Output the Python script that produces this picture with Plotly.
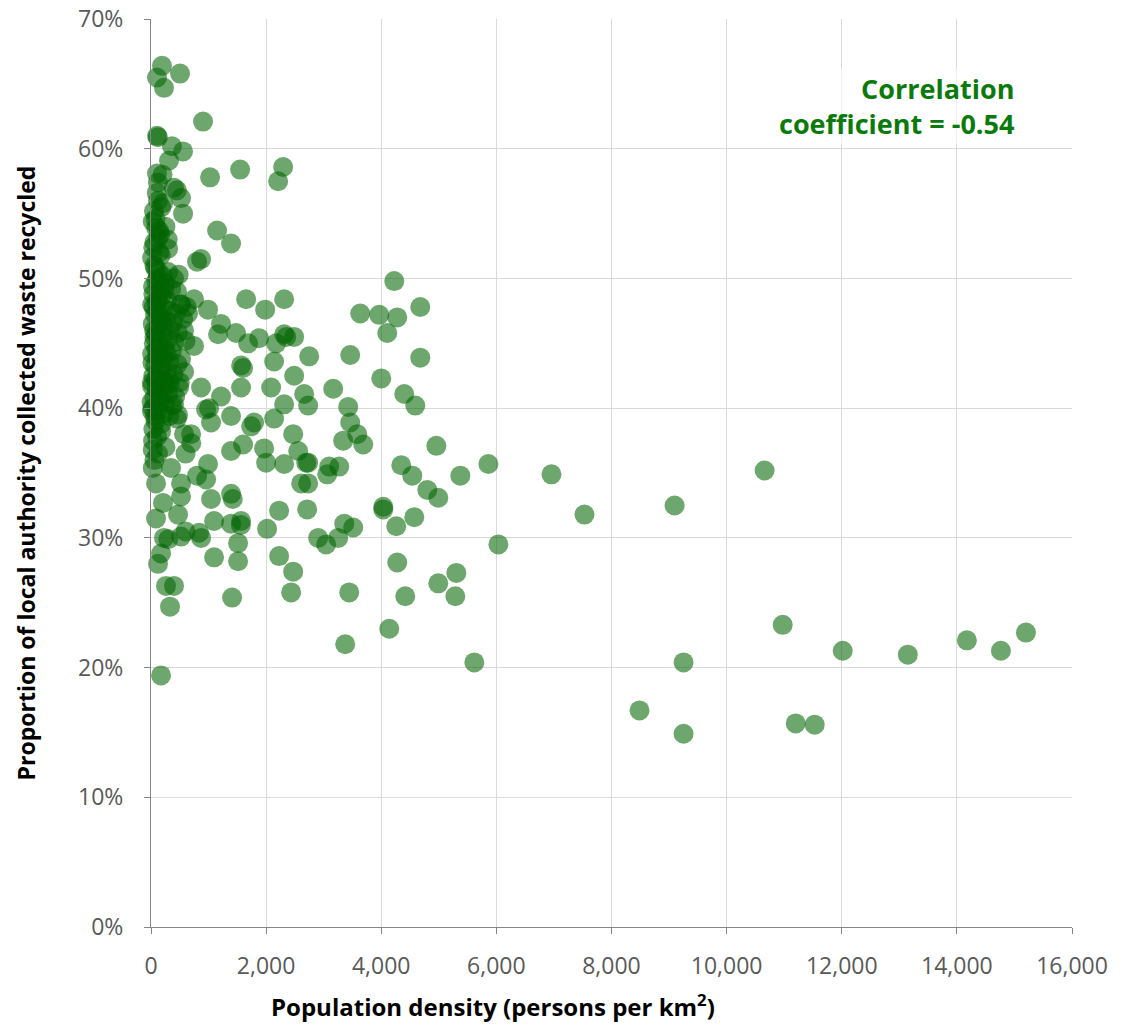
import plotly.graph_objects as go

# Population density (persons per km2) and proportion recycled (%)
density_outer = [191, 504, 104, 226, 904, 104, 120, 365, 557, 313, 104, 200, 1026, 1548, 2296, 2209,
                 122, 400, 450, 522, 557, 52, 30, 139, 1148, 1391, 122, 296, 20, 870, 800, 180, 250, 90]
recycled_outer = [66.4, 65.8, 65.5, 64.7, 62.1, 61.0, 60.9, 60.2, 59.8, 59.1, 58.1, 58.0, 57.8, 58.4, 58.6, 57.5,
                  56.0, 57.0, 56.8, 56.2, 55.0, 55.2, 54.4, 53.7, 53.7, 52.7, 53.1, 52.3, 51.6, 51.5, 51.3, 55.5, 54.0, 53.9]

density_mid = [1652, 1983, 2313, 991, 1217, 1478, 1165, 1687, 1878, 2313, 2350, 2487, 2174, 748, 1565, 1600,
               2139, 2748, 2487, 2087, 1565, 2661, 3165, 2313, 2730, 870, 1217, 957, 1009, 1391, 1791, 2139,
               522, 748, 643, 574, 522, 574, 487, 400, 470]
recycled_mid = [48.4, 47.6, 48.4, 47.6, 46.5, 45.8, 45.7, 45.0, 45.4, 45.7, 45.5, 45.5, 45.0, 44.8, 43.3, 43.1,
                43.6, 44.0, 42.5, 41.6, 41.6, 41.1, 41.5, 40.3, 40.2, 41.6, 40.9, 39.9, 40.0, 39.4, 38.9, 39.2,
                48.0, 48.4, 47.3, 46.0, 43.8, 42.8, 41.6, 40.3, 39.5]

density_right_mid = [4226, 3635, 3965, 4278, 4678, 4104, 3461, 4678, 4000, 4400, 4591, 3426, 3461, 3339, 3583, 3687, 4957]
recycled_right_mid = [49.8, 47.3, 47.2, 47.0, 47.8, 45.8, 44.1, 43.9, 42.3, 41.1, 40.2, 40.1, 38.9, 37.5, 38.0, 37.2, 37.1]

density_low = [2730, 3096, 3270, 3061, 2730, 4348, 4539, 5374, 5861, 4800, 4991, 4035, 4035, 4261, 4574, 3357,
               3513, 3252, 2904, 3043, 4278, 3443, 4417, 4991, 5304, 5287, 4139, 3374, 5617, 6035, 6957, 7530]
recycled_low = [35.8, 35.5, 35.5, 34.9, 34.2, 35.6, 34.8, 34.8, 35.7, 33.7, 33.1, 32.2, 32.4, 30.9, 31.6, 31.1,
                30.8, 30.0, 30.0, 29.5, 28.1, 25.8, 25.5, 26.5, 27.3, 25.5, 23.0, 21.8, 20.4, 29.5, 34.9, 31.8]

density_far = [9096, 10660, 10974, 12017, 13148, 14174, 14765, 15200, 9252, 8487, 9252, 11200, 11530]
recycled_far = [32.5, 35.2, 23.3, 21.3, 21.0, 22.1, 21.3, 22.7, 20.4, 16.7, 14.9, 15.7, 15.6]

density_lowleft = [1391, 1600, 1965, 2000, 2313, 2470, 2557, 2696, 2609, 1739, 1043, 574, 696,
                   122, 30, 348, 87, 522, 991, 957, 1043, 1391, 1420, 522, 209, 470, 87, 1096, 1391, 1565,
                   835, 522, 226, 1513, 174, 1096, 1513, 122, 400, 261, 330, 1409, 2226, 2470, 2435, 174,
                   2226, 2713, 2017, 1561, 870, 600, 300, 800, 700, 600, 250]
recycled_lowleft = [36.7, 37.2, 36.9, 35.8, 35.7, 38.0, 36.7, 35.8, 34.2, 38.6, 38.9, 38.0, 38.0,
                    36.5, 35.4, 35.4, 34.2, 34.2, 35.7, 34.5, 33.0, 33.4, 33.0, 33.2, 32.7, 31.8, 31.5, 31.3, 31.1, 31.3,
                    30.4, 30.1, 30.0, 29.6, 28.8, 28.5, 28.2, 28.0, 26.3, 26.3, 24.7, 25.4, 28.6, 27.4, 25.8, 19.4,
                    32.1, 32.2, 30.7, 31.0, 30.0, 30.5, 29.9, 34.8, 37.3, 36.5, 37.0]

density_dense = [60, 120, 200, 300, 400, 480, 90, 150, 250, 350, 450, 40, 180, 280, 520, 620, 100, 220, 330, 430,
                 70, 160, 260, 380, 560, 30, 130, 230, 340, 470, 90, 190, 290, 410, 50, 140, 240, 360, 600, 20,
                 110, 210, 320, 460, 70, 170, 270, 390, 40, 130, 230, 330, 500, 20, 100, 200, 300, 420, 60, 150,
                 250, 360, 30, 120, 220, 320, 450, 80, 180, 40, 10, 15, 25, 60, 110, 150, 75, 35, 200, 140,
                 55, 95, 165, 45, 85, 125, 240, 310, 65, 105, 175, 35, 15, 190, 270, 140, 60, 115, 230, 20,
                 80, 160, 40, 210, 120, 60, 290, 30, 170, 100]
recycled_dense = [51.0, 50.6, 50.2, 50.5, 50.0, 50.3, 49.8, 49.5, 49.6, 49.2, 49.0, 48.8, 48.6, 48.3, 48.0, 47.8,
                  48.1, 47.7, 47.5, 47.3, 47.2, 47.0, 46.8, 46.6, 46.9, 46.5, 46.3, 46.2, 46.0, 45.8, 45.7, 45.5,
                  45.3, 45.1, 45.0, 44.8, 44.6, 44.4, 45.2, 44.2, 44.0, 43.8, 43.6, 43.4, 43.3, 43.0, 42.8, 42.6,
                  42.5, 42.3, 42.1, 41.9, 42.0, 41.7, 41.5, 41.3, 41.1, 40.9, 40.8, 40.6, 40.4, 40.2, 40.0, 39.8,
                  39.6, 39.4, 39.2, 39.0, 38.8, 38.4, 40.5, 42.0, 43.5, 45.5, 47.5, 49.0, 50.8, 49.4, 44.0, 41.0,
                  46.0, 44.5, 43.2, 47.8, 42.2, 48.4, 41.8, 42.2, 39.4, 37.8, 38.2, 37.5, 39.8, 46.7, 44.2, 52.0,
                  52.8, 50.0, 49.2, 48.0,
                  54.6, 53.4, 52.4, 55.8, 57.4, 36.0, 53.0, 36.8, 51.8, 56.6]

density = (density_outer + density_mid + density_right_mid + density_low + density_far +
           density_lowleft + density_dense)
recycled = (recycled_outer + recycled_mid + recycled_right_mid + recycled_low + recycled_far +
            recycled_lowleft + recycled_dense)

x_ticks = list(range(0, 16001, 2000))
y_ticks = list(range(0, 71, 10))
y_tick_labels = [f"{v}%" for v in y_ticks]

font_family = "'Open Sans', sans-serif"

fig = go.Figure()
fig.add_trace(go.Scatter(
    x=density, y=recycled, mode="markers", cliponaxis=False,
    marker=dict(size=20, color="rgba(0,100,0,0.57)", line=dict(width=0)),
    hoverinfo="x+y", showlegend=False,
))

fig.update_layout(
    width=1128, height=1025,
    margin=dict(l=143, r=64, t=11, b=106, autoexpand=False),
    paper_bgcolor="white", plot_bgcolor="white",
    font=dict(family=font_family, color="#595959"),
    xaxis=dict(
        range=[0, 16000], tickvals=x_ticks, tickformat=",", automargin=False,
        showgrid=True, gridcolor="#d9d9d9", gridwidth=1,
        showline=True, linecolor="#868686", linewidth=1,
        ticks="outside", ticklen=6, tickcolor="#868686",
        tickfont=dict(size=23, color="#595959"), ticklabelstandoff=12,
        ticklabeloverflow="allow",
        zeroline=False,
    ),
    yaxis=dict(
        range=[0, 70.01], tickvals=y_ticks, ticktext=y_tick_labels, automargin=False,
        showgrid=True, gridcolor="#d9d9d9", gridwidth=1,
        showline=True, linecolor="#868686", linewidth=1,
        ticks="outside", ticklen=6, tickcolor="#868686",
        tickfont=dict(size=23, color="#595959"), ticklabelstandoff=16,
        ticklabeloverflow="allow",
        zeroline=False,
        title=dict(text="<b>Proportion of local authority collected waste recycled</b>",
                   font=dict(size=23, color="#000000"), standoff=36),
    ),
    annotations=[
        dict(
            text="<b>Correlation<br>coefficient = -0.54</b>",
            xref="paper", yref="paper", x=0.939, y=0.904,
            xanchor="right", yanchor="middle", align="right",
            showarrow=False, bgcolor="rgba(255,255,255,0.6)",
            font=dict(size=27, color="#0a7a0a", family=font_family),
        ),
        dict(
            text="<b>Population density (persons per km<sup>2</sup>)</b>",
            xref="paper", yref="paper", x=0.371, y=-0.087,
            xanchor="center", yanchor="middle", showarrow=False,
            font=dict(size=24, color="#000000", family=font_family),
        ),
    ],
)

fig.write_html("out.html")
